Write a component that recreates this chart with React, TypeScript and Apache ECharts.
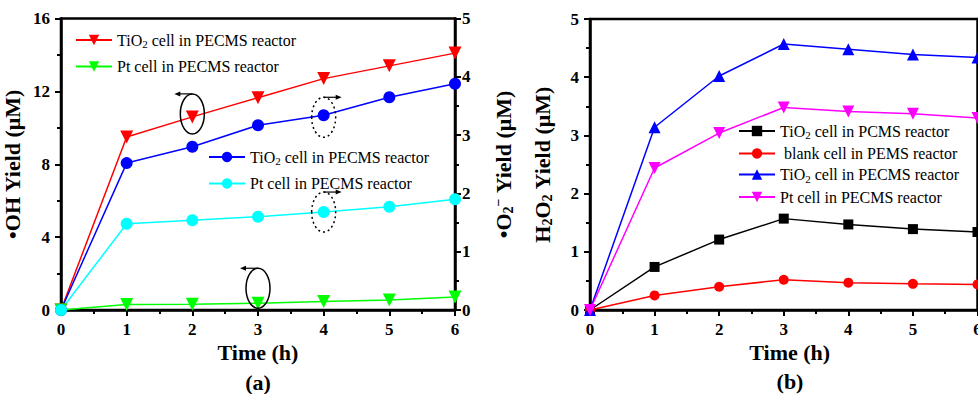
import React, { useEffect, useRef } from "react";
import * as echarts from "echarts";

const hours = [0, 1, 2, 3, 4, 5, 6];
// Panel (a) — •OH (left axis)
const ohTiO2 = [0, 9.5, 10.6, 11.65, 12.7, 13.4, 14.1];
const ohPt = [0, 0.3, 0.32, 0.37, 0.47, 0.55, 0.72];
// Panel (a) — O2•− (right axis)
const o2TiO2 = [0, 2.52, 2.8, 3.17, 3.34, 3.65, 3.88];
const o2Pt = [0, 1.48, 1.54, 1.6, 1.68, 1.77, 1.9];
// Panel (b) — H2O2
const h2TiO2PCMS = [0, 0.74, 1.21, 1.57, 1.47, 1.39, 1.34];
const h2Blank = [0, 0.25, 0.4, 0.52, 0.47, 0.45, 0.44];
const h2TiO2PECMS = [0, 3.14, 4.02, 4.57, 4.48, 4.39, 4.34];
const h2Pt = [0, 2.44, 3.04, 3.48, 3.41, 3.37, 3.3];

const xTicks = ["0", "1", "2", "3", "4", "5", "6"];

const FONT = "Liberation Serif";

const legendLabels: Record<string, string> = {
  "a-oh-tio2": "{n|TiO}{s|2}{n| cell in PECMS reactor}",
  "a-oh-pt": "{n|Pt cell in PECMS reactor}",
  "a-o2-tio2": "{n|TiO}{s|2}{n| cell in PECMS reactor}",
  "a-o2-pt": "{n|Pt cell in PECMS reactor}",
  "b-tio2-pcms": "{n|TiO}{s|2}{n| cell in PCMS reactor}",
  "b-blank": "{n| blank cell in PEMS reactor}",
  "b-tio2-pecms": "{n|TiO}{s|2}{n| cell in PECMS reactor}",
  "b-pt": "{n|Pt cell in PECMS reactor}",
};

const pairs = (ys: number[]) => hours.map((h, i) => [h, ys[i]]);

const richText = {
  n: { fontFamily: FONT, fontSize: 16, color: "#000" },
  s: { fontFamily: FONT, fontSize: 11, color: "#000", padding: [8, 0, 0, 0] },
};

const titleRich = {
  t: { fontFamily: FONT, fontSize: 22, fontWeight: "bold", color: "#000" },
  s: { fontFamily: FONT, fontSize: 14, fontWeight: "bold", color: "#000", padding: [10, 0, 0, 0] },
  p: { fontFamily: FONT, fontSize: 14, fontWeight: "bold", color: "#000", padding: [0, 0, 10, 0] },
};

function xAxis(gridIndex: number, extra: any = {}) {
  return {
    type: "value",
    gridIndex,
    min: 0,
    max: 6,
    interval: 1,
    name: "Time (h)",
    nameLocation: "middle",
    nameGap: 31,
    nameMoveOverlap: false,
    nameTextStyle: { fontFamily: FONT, fontSize: 22, fontWeight: "bold", color: "#000", ...extra },
    axisLine: { onZero: false, lineStyle: { color: "#000", width: 2.5 } },
    axisTick: { length: 6, lineStyle: { color: "#000", width: 2 } },
    minorTick: { show: true, splitNumber: 2, length: 4, lineStyle: { color: "#000", width: 2 } },
    splitLine: { show: false },
    axisLabel: {
      fontFamily: FONT,
      fontSize: 17,
      fontWeight: "bold",
      color: "#000",
      margin: 11,
      hideOverlap: false,
      formatter: (v: number) => xTicks[v] ?? String(v),
    },
  };
}

function yAxis(gridIndex: number, position: string, max: number, interval: number, name: string, nameGap: number, margin: number) {
  return {
    type: "value",
    gridIndex,
    position,
    min: 0,
    max,
    interval,
    name,
    nameLocation: "middle",
    nameGap,
    nameRotate: 90,
    nameMoveOverlap: false,
    nameTextStyle: { rich: titleRich },
    axisLine: { show: true, lineStyle: { color: "#000", width: 2.5 } },
    axisTick: { show: true, length: 6, lineStyle: { color: "#000", width: 2 } },
    minorTick: { show: true, splitNumber: 2, length: 4, lineStyle: { color: "#000", width: 2 } },
    splitLine: { show: false },
    axisLabel: { fontFamily: FONT, fontSize: 17, fontWeight: "bold", color: "#000", margin },
  };
}

function line(id: string, xi: number, yi: number, data: number[], color: string, symbol: string, size: number, rotate = 0) {
  return {
    type: "line",
    name: id,
    xAxisIndex: xi,
    yAxisIndex: yi,
    data: pairs(data),
    symbol,
    symbolSize: size,
    symbolRotate: rotate,
    showSymbol: true,
    clip: false,
    lineStyle: { color, width: 1.5 },
    itemStyle: { color, borderWidth: 0 },
    z: 3,
  };
}

function legend(ids: string[], left: number, top: number, gap: number) {
  return {
    data: ids,
    left,
    top,
    orient: "vertical",
    itemGap: gap,
    itemWidth: 36,
    itemHeight: 13,
    selectedMode: false,
    padding: 0,
    formatter: (n: string) => legendLabels[n] ?? n,
    textStyle: { fontFamily: FONT, fontSize: 16, color: "#000", rich: richText },
  };
}

export default function App() {
  const ref = useRef<HTMLDivElement>(null);
  useEffect(() => {
    if (!ref.current) return;
    const chart = echarts.init(ref.current, null, { renderer: "svg" });
    const option: any = {
      animation: false,
      backgroundColor: "#fff",
      grid: [
        { left: 61, top: 18.5, width: 394, height: 291.5, outerBoundsMode: "none", containLabel: false, show: true, borderColor: "#000", borderWidth: 2.5, backgroundColor: "transparent" },
        { left: 590, top: 19, width: 387.5, height: 291, outerBoundsMode: "none", containLabel: false, show: true, borderColor: "#000", borderWidth: 2.5, backgroundColor: "transparent" },
      ],
      xAxis: [xAxis(0), xAxis(1, { padding: [0, 0, 0, 12] })],
      yAxis: [
        yAxis(0, "left", 16, 4, "{t|•OH Yield (μM)}", 38, 11),
        yAxis(0, "right", 5, 1, "{t|•O}{s|2}{p|−}{t| Yield (μM)}", 36, 7),
        yAxis(1, "left", 5, 1, "{t|H}{s|2}{t|O}{s|2}{t| Yield (μM)}", 36, 11),
      ],
      legend: [
        legend(["a-oh-tio2", "a-oh-pt"], 75, 32, 9),
        legend(["a-o2-tio2", "a-o2-pt"], 208, 149, 9),
        legend(["b-tio2-pcms", "b-blank", "b-tio2-pecms", "b-pt"], 738, 123, 5),
      ],
      series: [
        line("a-oh-tio2", 0, 0, ohTiO2, "#ff0000", "triangle", 13, 180),
        line("a-oh-pt", 0, 0, ohPt, "#00ff00", "triangle", 13, 180),
        line("a-o2-tio2", 0, 1, o2TiO2, "#0000ff", "circle", 12),
        line("a-o2-pt", 0, 1, o2Pt, "#00ffff", "circle", 12),
        line("b-tio2-pcms", 1, 2, h2TiO2PCMS, "#000000", "rect", 10),
        line("b-blank", 1, 2, h2Blank, "#ff0000", "circle", 10),
        line("b-tio2-pecms", 1, 2, h2TiO2PECMS, "#0000ff", "triangle", 12),
        line("b-pt", 1, 2, h2Pt, "#ff00ff", "triangle", 12, 180),
      ],
    };
    chart.setOption(option);

    const px = (yi: number, x: number, y: number) =>
      chart.convertToPixel({ xAxisIndex: 0, yAxisIndex: yi } as any, [x, y]) as number[];

    const annot = (c: number[], dy: number, dashed: boolean, dir: number) => {
      const cx = c[0];
      const cy = c[1] + dy;
      const rx = 12;
      const ry = 20;
      const top = cy - ry;
      const end = cx + dir * 18;
      return [
        {
          type: "ellipse",
          shape: { cx, cy, rx, ry },
          style: { fill: "none", stroke: "#000", lineWidth: 1.5, lineDash: dashed ? [2, 3] : null },
          z: 10,
        },
        {
          type: "line",
          shape: { x1: cx, y1: top, x2: end - dir * 4, y2: top },
          style: { stroke: "#000", lineWidth: 1.2 },
          z: 10,
        },
        {
          type: "polygon",
          shape: { points: [[end, top], [end - dir * 6, top - 2.5], [end - dir * 6, top + 2.5]] },
          style: { fill: "#000" },
          z: 10,
        },
      ];
    };

    const labelA = px(0, 3, 0);
    const capStyle = (t: string) => ({
      text: t,
      align: "center",
      verticalAlign: "middle",
      fontFamily: FONT,
      fontSize: 22,
      fontWeight: "bold",
      fill: "#000",
    });
    chart.setOption({
      graphic: [
        ...annot(px(0, 2, ohTiO2[2]), -3, false, -1),
        ...annot(px(1, 4, o2TiO2[4]), 2, true, 1),
        ...annot(px(1, 4, o2Pt[4]), 0, true, 1),
        ...annot(px(0, 3, ohPt[3]), -15, false, -1),
        { type: "text", x: labelA[0], y: 382, style: capStyle("(a)") },
        { type: "text", x: 790, y: 381, style: capStyle("(b)") },
      ],
    });

    return () => chart.dispose();
  }, []);
  return <div ref={ref} style={{ width: 978, height: 394, position: "absolute", left: 0, top: 0 }} />;
}
